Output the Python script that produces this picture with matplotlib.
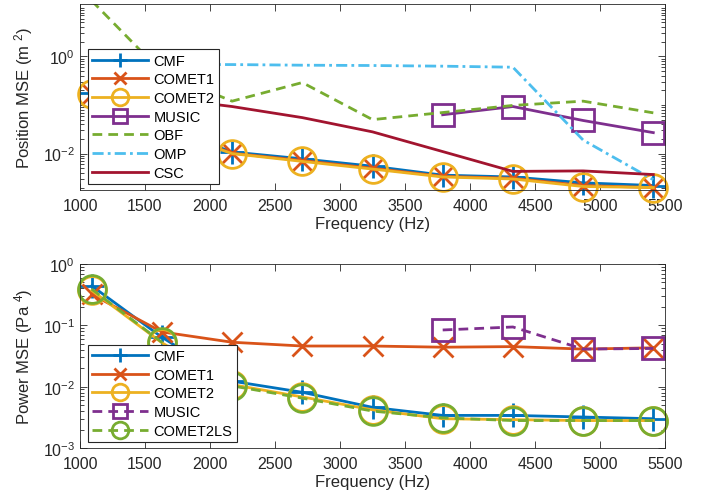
import matplotlib
matplotlib.use("Agg")
import matplotlib.pyplot as plt
import numpy as np
from matplotlib.ticker import LogLocator, NullFormatter, FixedLocator

plt.rcParams["font.family"] = ["Liberation Sans", "DejaVu Sans"]
plt.rcParams["mathtext.fontset"] = "custom"
plt.rcParams["mathtext.rm"] = "Liberation Sans"
plt.rcParams["mathtext.it"] = "Liberation Sans:italic"

# ---- data ----
freq = [1090, 1630, 2170, 2710, 3250, 3790, 4330, 4870, 5410]

# Position MSE (m^2)
pos_cmf = [0.18, 0.036, 0.0108, 0.0078, 0.0055, 0.0036, 0.0033, 0.0025, 0.0022]
pos_comet1 = [0.17, 0.033, 0.0102, 0.0072, 0.0050, 0.0034, 0.0031, 0.0022, 0.0020]
pos_comet2 = [0.165, 0.032, 0.0100, 0.0069, 0.0048, 0.0033, 0.0030, 0.0021, 0.0020]
pos_music = [np.nan, np.nan, np.nan, np.nan, np.nan, 0.063, 0.093, 0.048, 0.027]
pos_obf = [14.0, 0.47, 0.12, 0.29, 0.050, 0.070, 0.098, 0.12, 0.069]
pos_omp = [0.70, 0.68, 0.68, 0.66, 0.65, 0.63, 0.60, 0.019, 0.0029]
pos_csc = [0.30, 0.14, 0.093, 0.055, 0.028, 0.011, 0.0043, 0.0044, 0.0037]

# Power MSE (Pa^4)
pow_cmf = [0.44, 0.064, 0.0123, 0.0081, 0.0046, 0.0034, 0.0034, 0.0032, 0.0030]
pow_comet1 = [0.32, 0.078, 0.053, 0.046, 0.046, 0.044, 0.045, 0.041, 0.043]
pow_comet2 = [0.37, 0.052, 0.0108, 0.0068, 0.0042, 0.0030, 0.0029, 0.0028, 0.0028]
pow_music = [np.nan, np.nan, np.nan, np.nan, np.nan, 0.084, 0.094, 0.041, 0.042]
pow_comet2ls = [0.39, 0.053, 0.0103, 0.0065, 0.0040, 0.0031, 0.0028, 0.0028, 0.0028]

C_CMF = "#0072BD"
C_COMET1 = "#D95319"
C_COMET2 = "#EDB120"
C_MUSIC = "#7E2F8E"
C_OBF = "#77AC30"
C_OMP = "#4DBEEE"
C_CSC = "#A2142F"
AXC = "#262626"

W, H = 703, 502
fig = plt.figure(figsize=(W / 100, H / 100), dpi=100)
ax1 = fig.add_axes([80 / W, 1 - 191 / H, 585 / W, 186 / H])
ax2 = fig.add_axes([80 / W, 1 - 449 / H, 585 / W, 184 / H])

LW = 2.0
MEW = 2.0


def style_axis(ax, ylim, major):
    ax.set_yscale("log")
    ax.set_xlim(1000, 5500)
    ax.set_ylim(*ylim)
    ax.set_xticks(np.arange(1000, 5501, 500))
    ax.yaxis.set_major_locator(FixedLocator(major))
    ax.yaxis.set_minor_locator(LogLocator(base=10, subs=np.arange(1, 10), numticks=20))
    ax.yaxis.set_minor_formatter(NullFormatter())
    ax.set_yticklabels([f"10$^{{{int(np.log10(m))}}}$" for m in major])
    ax.tick_params(which="both", direction="in", top=True, right=True,
                   colors=AXC, labelsize=11.5, width=0.6)
    ax.tick_params(axis="x", pad=6)
    ax.tick_params(which="major", length=5)
    ax.tick_params(which="minor", length=3)
    for s in ax.spines.values():
        s.set_color(AXC)
        s.set_linewidth(0.6)
    ax.set_xlabel("Frequency (Hz)", fontsize=12, color=AXC, labelpad=2)


# ---- top: position MSE ----
ax1.plot(freq, pos_cmf, color=C_CMF, lw=LW, marker="+", ms=17, mew=MEW, label="CMF", clip_on=False)
ax1.plot(freq, pos_comet1, color=C_COMET1, lw=LW, marker="x", ms=14, mew=MEW, label="COMET1", clip_on=False)
ax1.plot(freq, pos_comet2, color=C_COMET2, lw=LW, marker="o", ms=20, mew=MEW, mfc="none", label="COMET2", clip_on=False)
ax1.plot(freq, pos_music, color=C_MUSIC, lw=LW, marker="s", ms=16, mew=MEW, mfc="none", label="MUSIC", clip_on=False)
ax1.plot(freq, pos_obf, color=C_OBF, lw=LW, ls=(0, (3.5, 2.2)), label="OBF")
ax1.plot(freq, pos_omp, color=C_OMP, lw=LW, ls=(0, (4, 1.5, 1, 1.5)), label="OMP")
ax1.plot(freq, pos_csc, color=C_CSC, lw=LW, label="CSC")
style_axis(ax1, (1.78e-3, 12.0), [1e-2, 1e0])
ax1.set_ylabel("Position MSE (m $^{2}$)", fontsize=12, color=AXC, labelpad=6)

# ---- bottom: power MSE ----
ax2.plot(freq, pow_cmf, color=C_CMF, lw=LW, marker="+", ms=17, mew=MEW, label="CMF", clip_on=False)
ax2.plot(freq, pow_comet1, color=C_COMET1, lw=LW, marker="x", ms=14, mew=MEW, label="COMET1", clip_on=False)
ax2.plot(freq, pow_comet2, color=C_COMET2, lw=LW, marker="o", ms=20, mew=MEW, mfc="none", label="COMET2", clip_on=False)
ax2.plot(freq, pow_music, color=C_MUSIC, lw=LW, ls=(0, (3.5, 2.2)), marker="s", ms=16, mew=MEW, mfc="none",
         label="MUSIC", clip_on=False)
ax2.plot(freq, pow_comet2ls, color=C_OBF, lw=LW, ls=(0, (3.5, 2.2)), marker="o", ms=20, mew=MEW, mfc="none",
         label="COMET2LS", clip_on=False)
style_axis(ax2, (1e-3, 1.0), [1e-3, 1e-2, 1e-1, 1e0])
ax2.set_ylabel("Power MSE (Pa $^{4}$)", fontsize=12, color=AXC, labelpad=6)

for ax in (ax1, ax2):
    leg = ax.legend(loc="lower left", bbox_to_anchor=(0.0137, 0.032), fontsize=10.5,
                    handlelength=3.8, handletextpad=0.4, labelspacing=0.32, borderpad=0.3,
                    borderaxespad=0, markerscale=0.6, fancybox=False, framealpha=1,
                    edgecolor=AXC)
    leg.get_frame().set_linewidth(0.8)
    leg.set_zorder(10)

fig.savefig("out.png", dpi=100)
